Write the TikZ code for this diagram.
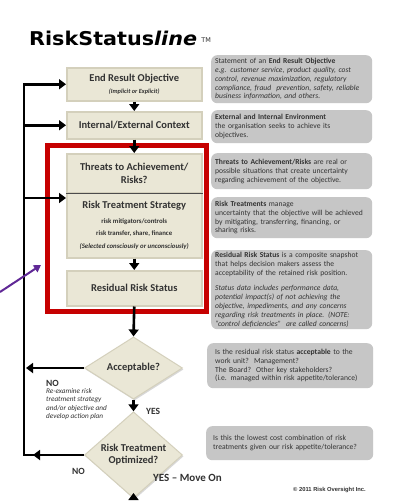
\documentclass[tikz,border=0pt]{standalone}
\usepackage{fontspec}
\setmainfont{Carlito}
\newfontfamily\titlefont{DejaVu Sans}
\newfontfamily\copyfont{Liberation Sans}
\usetikzlibrary{arrows.meta,shapes.geometric,shadows}
\definecolor{beige}{RGB}{234,231,214}
\definecolor{beigeedge}{RGB}{212,208,188}
\definecolor{boxgray}{RGB}{198,198,198}
\definecolor{txt}{RGB}{50,50,50}
\definecolor{riskred}{RGB}{198,0,0}
\definecolor{purp}{RGB}{96,40,150}
\newcommand{\sml}{\fontsize{6.8}{9.5}\selectfont}
\begin{document}
\begin{tikzpicture}[x=1pt,y=-1pt,
  flowbox/.style={draw=beigeedge, line width=1.5pt, fill=beige, text=txt,
    font=\bfseries\fontsize{10.5}{12.5}\selectfont, align=center, inner sep=0pt,
    anchor=north west, minimum width=135pt,
    drop shadow={shadow xshift=1pt, shadow yshift=-1.5pt, opacity=0.3}},
  decision/.style={diamond, draw=beigeedge, line width=1pt, fill=beige, text=txt,
    font=\bfseries\fontsize{10.5}{12}\selectfont, align=center, inner sep=0pt,
    minimum width=98pt, minimum height=56pt,
    drop shadow={shadow xshift=1pt, shadow yshift=-1.5pt, opacity=0.3}},
  note/.style={fill=boxgray, rounded corners=6pt, text=txt,
    font=\fontsize{7.6}{8.8}\selectfont, align=left, anchor=north west,
    inner xsep=4pt, inner ysep=1pt, text width=153pt},
  flowarrow/.style={line width=2.6pt, -{Triangle[length=7pt,width=10pt]}},
  label/.style={text=txt, font=\bfseries\fontsize{9.5}{11}\selectfont, inner sep=0pt},
  smallnote/.style={text=txt, font=\itshape\fontsize{7.2}{8.5}\selectfont, align=left, inner sep=0pt, anchor=north west},
]
\useasboundingbox (0,0) rectangle (419,504);
\fill[white] (0,0) rectangle (419,504);

% title
\node[anchor=base west, inner sep=0pt, font=\titlefont\bfseries\fontsize{19}{22}\selectfont] (title) at (29,45) {\scalebox{1.09}[1]{RiskStatus\textit{line}}};
\node[anchor=base west, inner sep=0pt, font=\titlefont\fontsize{6.5}{7}\selectfont, text=txt] (tm) at ([xshift=4pt,yshift=3pt]title.base east) {TM};

% flow boxes
\node[flowbox, minimum height=33pt] (ero) at (66,67) {End Result Objective\\[-1pt]\fontsize{6.3}{7}\selectfont\itshape (Implicit or Explicit)};
\node[flowbox, minimum height=27pt] (iec) at (66,111) {Internal/External Context};
\node[flowbox, minimum height=39pt] (thr) at (66,153) {Threats to Achievement/\\Risks?};
\node[flowbox, minimum height=65pt] (rts) at (66,192) {Risk Treatment Strategy\\[2pt]\sml risk mitigators/controls\\\sml risk transfer, share, finance\\\sml\itshape (Selected consciously or unconsciously)};
\draw[line width=1.8pt, black!70] (thr.south west) -- (thr.south east);
\node[flowbox, minimum height=35pt] (rrs) at (66,270) {Residual Risk Status};

% decisions
\node[decision] (acc) at (133.5,368) {Acceptable?};
\node[decision, minimum height=54pt] (rto) at (133.5,455) {Risk Treatment\\Optimized?};

% red focus frame
\draw[riskred, line width=5pt] (47,145) rectangle (206,311);

% spine coordinates
\coordinate (spine) at (24,0);
\coordinate (noarr) at (33,0);
\coordinate (accno) at (26,0);
\coordinate (thrin) at (66,198);
\coordinate (outend) at (133.5,493);

% vertical flow arrows
\draw[flowarrow] (ero.south) -- (iec.north);
\draw[flowarrow] (iec.south) -- (thr.north);
\draw[flowarrow] (rts.south) -- (rrs.north);
\draw[flowarrow] (rrs.south) -- (acc.north);
\draw[flowarrow] (acc.south) -- (rto.north);
\draw[flowarrow] (rto.south) -- (outend);

% feedback loop
\draw[line width=2.6pt, line join=miter, -{Triangle[length=7pt,width=10pt]}] (rto.west) -- (spine |- rto.west) -- (spine |- ero.west) -- (ero.west);
\draw[flowarrow] (rto.west) -- (noarr |- rto.west);
\draw[flowarrow] (spine |- iec.west) -- (iec.west);
\draw[flowarrow] (spine |- thrin) -- (thrin);
\draw[flowarrow] (acc.west) -- (accno |- acc.west);

% purple pointer
\coordinate (pstart) at (0,292);
\coordinate (ptip) at (41,265);
\draw[purp, line width=2pt, -{Triangle[length=7pt,width=8pt]}] (pstart) -- (ptip);

% labels
\node[label, anchor=base west] (no1) at (46,386) {NO};
\node[smallnote] (reexam) at (46,388) {Re-examine risk\\treatment strategy\\and/or objective and\\develop action plan};
\node[label, anchor=base west] (yes1) at (146,414) {YES};
\node[label, anchor=base west] (no2) at (72,474) {NO};
\node[label, anchor=base west, font=\bfseries\fontsize{11}{12}\selectfont] (yes2) at (153,481) {YES -- Move On};

% notes
\node[note, minimum height=48pt] (n1) at (211,55) {Statement of an \textbf{End Result Objective}\\\itshape e.g. customer service, product quality, cost\\\itshape control, revenue maximization, regulatory\\\itshape compliance, fraud\ \ prevention, safety, reliable\\\itshape business information, and others.};
\node[note, minimum height=33pt] (n2) at (211,110) {\textbf{External and Internal Environment}\\the organisation seeks to achieve its\\objectives.};
\node[note, minimum height=36pt] (n3) at (211,153) {\textbf{Threats to Achievement/Risks} are real or\\possible situations that create uncertainty\\regarding achievement of the objective.};
\node[note, minimum height=41pt] (n4) at (211,197) {\textbf{Risk Treatments} manage\\uncertainty that the objective will be achieved\\by mitigating, transferring, financing, or\\sharing risks.};
\node[note, minimum height=79pt] (n5) at (211,250) {\textbf{Residual Risk Status} is a composite snapshot\\that helps decision makers assess the\\acceptability of the retained risk position.\\[7pt]\itshape Status data includes performance data,\\\itshape potential impact(s) of not achieving the\\\itshape objective, impediments, and any concerns\\\itshape regarding risk treatments in place. (NOTE:\\\itshape “control deficiencies”\ \ are called concerns)};
\node[note, minimum height=45pt, inner xsep=8pt, text width=150pt] (n6) at (207,343) {Is the residual risk status \textbf{acceptable} to the\\work unit?\ \ Management?\\The Board?\ \ Other key stakeholders?\\(i.e. managed within risk appetite/tolerance)};
\node[note, minimum height=34pt, inner xsep=7pt, text width=153pt] (n7) at (206,426) {Is this the lowest cost combination of risk\\treatments given our risk appetite/tolerance?};

% copyright
\node[anchor=base west, inner sep=0pt, text=txt, font=\copyfont\bfseries\fontsize{5.8}{6.5}\selectfont] (copy) at (293,491) {© 2011 Risk Oversight Inc.};
\end{tikzpicture}
\end{document}
